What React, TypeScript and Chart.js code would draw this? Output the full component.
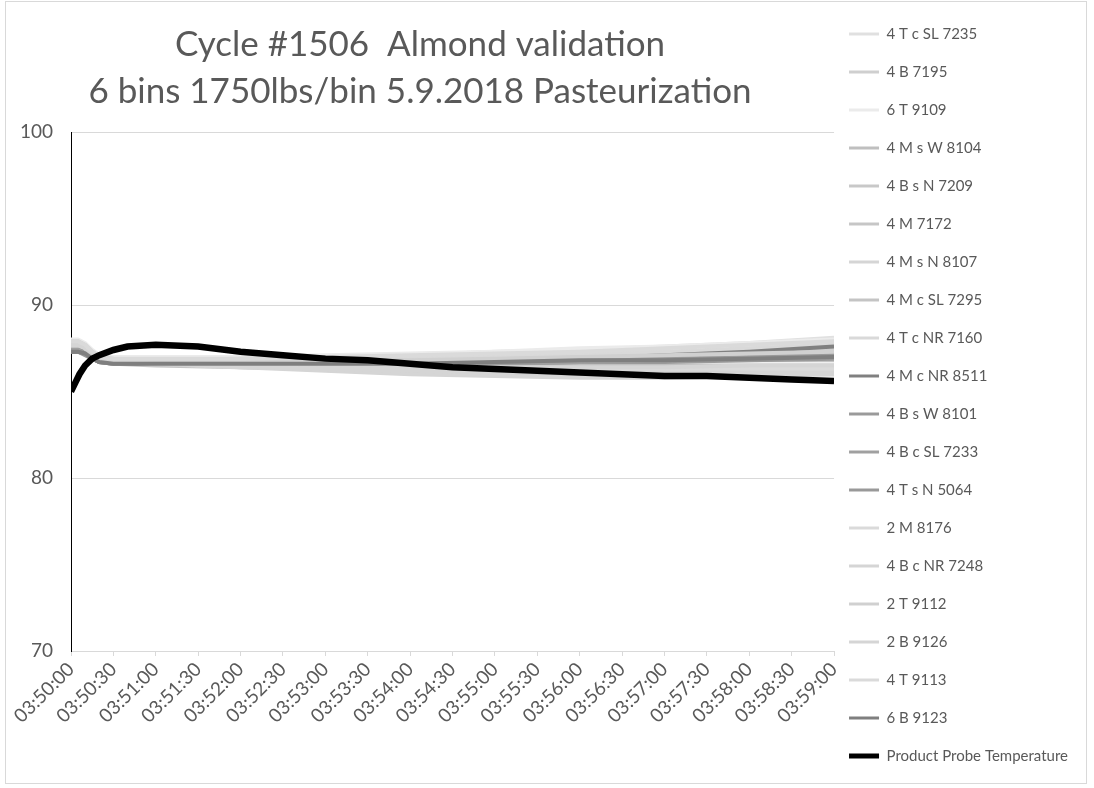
import React, { useEffect, useRef } from "react";
import { Chart, registerables } from "chart.js";

Chart.register(...registerables);

const TITLE_LINES = ["Cycle #1506  Almond validation", "6 bins 1750lbs/bin 5.9.2018 Pasteurization"];

const X_TICK_STEP = 30;
const X_MIN = 0;
const X_MAX = 540;
const X_TICK_LABELS = [
  "03:50:00", "03:50:30", "03:51:00", "03:51:30", "03:52:00", "03:52:30", "03:53:00",
  "03:53:30", "03:54:00", "03:54:30", "03:55:00", "03:55:30", "03:56:00", "03:56:30",
  "03:57:00", "03:57:30", "03:58:00", "03:58:30", "03:59:00",
];
const Y_MIN = 70;
const Y_MAX = 100;
const Y_STEP = 10;

// seconds after 03:50:00
const SENSOR_TIMES = [0, 5, 10, 15, 20, 30, 60, 120, 180, 240, 300, 360, 420, 480, 540];

const s4TcSL7235 = [87.9, 87.9, 87.7, 87.3, 87.0, 86.9, 86.9, 86.9, 87.0, 87.1, 87.3, 87.4, 87.6, 87.8, 88.1];
const s4B7195 = [87.8, 87.8, 87.6, 87.2, 86.9, 86.8, 86.8, 86.8, 86.8, 86.9, 87.0, 87.1, 87.2, 87.3, 87.4];
const s6T9109 = [88.0, 88.0, 87.8, 87.4, 87.1, 87.0, 87.0, 87.0, 87.1, 87.2, 87.3, 87.5, 87.6, 87.8, 88.0];
const s4MsW8104 = [87.6, 87.6, 87.4, 87.0, 86.7, 86.6, 86.6, 86.5, 86.5, 86.5, 86.5, 86.5, 86.5, 86.5, 86.5];
const s4BsN7209 = [87.7, 87.7, 87.5, 87.1, 86.8, 86.7, 86.6, 86.5, 86.4, 86.3, 86.3, 86.2, 86.2, 86.2, 86.2];
const s4M7172 = [87.6, 87.6, 87.4, 87.0, 86.7, 86.6, 86.5, 86.4, 86.3, 86.2, 86.1, 86.0, 86.0, 86.0, 86.0];
const s4MsN8107 = [87.7, 87.7, 87.5, 87.1, 86.8, 86.7, 86.6, 86.4, 86.2, 86.0, 85.9, 85.8, 85.8, 85.9, 86.0];
const s4McSL7295 = [87.6, 87.6, 87.4, 87.0, 86.8, 86.7, 86.7, 86.7, 86.7, 86.7, 86.7, 86.7, 86.8, 86.8, 86.8];
const s4TcNR7160 = [87.8, 87.8, 87.6, 87.2, 86.9, 86.8, 86.8, 86.9, 87.0, 87.0, 87.1, 87.2, 87.3, 87.5, 87.7];
const s4McNR8511 = [87.3, 87.3, 87.2, 86.9, 86.7, 86.7, 86.7, 86.6, 86.6, 86.7, 86.8, 86.9, 87.1, 87.3, 87.6];
const s4BsW8101 = [87.4, 87.4, 87.3, 87.0, 86.8, 86.7, 86.7, 86.6, 86.6, 86.6, 86.6, 86.7, 86.7, 86.8, 86.9];
const s4BcSL7233 = [87.4, 87.4, 87.2, 86.9, 86.7, 86.6, 86.6, 86.5, 86.5, 86.5, 86.6, 86.7, 86.8, 86.9, 87.0];
const s4TsN5064 = [87.3, 87.3, 87.1, 86.9, 86.7, 86.6, 86.6, 86.6, 86.6, 86.6, 86.7, 86.8, 86.9, 87.0, 87.2];
const s2M8176 = [87.7, 87.7, 87.5, 87.1, 86.8, 86.7, 86.6, 86.5, 86.4, 86.3, 86.3, 86.3, 86.3, 86.3, 86.3];
const s4BcNR7248 = [87.8, 87.8, 87.6, 87.2, 86.9, 86.8, 86.7, 86.6, 86.5, 86.4, 86.4, 86.4, 86.4, 86.5, 86.5];
const s2T9112 = [87.9, 87.9, 87.7, 87.3, 87.0, 86.9, 86.8, 86.8, 86.8, 86.8, 86.9, 87.0, 87.1, 87.2, 87.3];
const s2B9126 = [87.7, 87.7, 87.5, 87.1, 86.8, 86.7, 86.6, 86.4, 86.3, 86.2, 86.1, 86.1, 86.1, 86.1, 86.1];
const s4T9113 = [87.9, 87.9, 87.7, 87.3, 87.0, 86.9, 86.9, 86.9, 87.0, 87.1, 87.2, 87.3, 87.5, 87.7, 87.9];
const s6B9123 = [87.3, 87.3, 87.2, 86.9, 86.7, 86.6, 86.6, 86.6, 86.6, 86.6, 86.7, 86.8, 86.8, 86.9, 87.0];

const SENSOR_NAMES = [
  "4 T c SL 7235", "4 B 7195", "6 T 9109", "4 M s W 8104", "4 B s N 7209", "4 M 7172",
  "4 M s N 8107", "4 M c SL 7295", "4 T c NR 7160", "4 M c NR 8511", "4 B s W 8101",
  "4 B c SL 7233", "4 T s N 5064", "2 M 8176", "4 B c NR 7248", "2 T 9112", "2 B 9126",
  "4 T 9113", "6 B 9123",
];
const SENSOR_VALUES = [
  s4TcSL7235, s4B7195, s6T9109, s4MsW8104, s4BsN7209, s4M7172, s4MsN8107, s4McSL7295,
  s4TcNR7160, s4McNR8511, s4BsW8101, s4BcSL7233, s4TsN5064, s2M8176, s4BcNR7248, s2T9112,
  s2B9126, s4T9113, s6B9123,
];
const SENSOR_COLORS = [
  "#e0e0e0", "#cfcfcf", "#ebebeb", "#bfbfbf", "#c8c8c8", "#c6c6c6", "#d5d5d5", "#c4c4c4",
  "#d9d9d9", "#808080", "#9a9a9a", "#a0a0a0", "#999999", "#dadada", "#d5d5d5", "#d0d0d0",
  "#d5d5d5", "#dadada", "#7f7f7f",
];

const PROBE_NAME = "Product Probe Temperature";
const PROBE_TIMES = [0, 3, 6, 10, 15, 20, 30, 40, 60, 90, 120, 150, 180, 210, 240, 270, 300, 330, 360, 390, 420, 450, 480, 510, 540];
const PROBE_VALUES = [85.0, 85.5, 86.0, 86.5, 86.9, 87.1, 87.4, 87.6, 87.7, 87.6, 87.3, 87.1, 86.9, 86.8, 86.6, 86.4, 86.3, 86.2, 86.1, 86.0, 85.9, 85.9, 85.8, 85.7, 85.6];

const TEXT_COLOR = "#595959";
const FONT = "Lato";
const LEGEND_PAD = 23;

const layoutTweaks = {
  id: "layoutTweaks",
  afterLayout(chart: any) {
    const t = chart.titleBlock;
    if (t) {
      t.left = 0;
      t.right = chart.chartArea.right;
      t.width = t.right - t.left;
    }
    const l = chart.legend;
    if (l) {
      const w = l.right - l.left;
      l.left = chart.chartArea.right + 15 - LEGEND_PAD;
      l.right = l.left + w;
    }
  },
};

export default function App() {
  const ref = useRef<HTMLCanvasElement | null>(null);

  useEffect(() => {
    if (!ref.current) return;
    const sensorSets = SENSOR_NAMES.map((name, i) => ({
      label: name,
      data: SENSOR_TIMES.map((t, j) => ({ x: t, y: SENSOR_VALUES[i][j] })),
      borderColor: SENSOR_COLORS[i],
      backgroundColor: SENSOR_COLORS[i],
      borderWidth: 4,
      pointRadius: 0,
      tension: 0,
      order: SENSOR_NAMES.length - i,
    }));
    const probeSet = {
      label: PROBE_NAME,
      data: PROBE_TIMES.map((t, j) => ({ x: t, y: PROBE_VALUES[j] })),
      borderColor: "#000000",
      backgroundColor: "#000000",
      borderWidth: 6.5,
      pointRadius: 0,
      tension: 0,
      order: 0,
    };
    const probeIndex = SENSOR_NAMES.length;

    const chart = new Chart(ref.current, {
      type: "line",
      data: { datasets: [...sensorSets, probeSet] as any },
      plugins: [layoutTweaks],
      options: {
        animation: false,
        responsive: false,
        layout: { padding: { left: 0, top: 0, bottom: 0, right: 0 } },
        plugins: {
          tooltip: { enabled: false },
          title: {
            display: true,
            fullSize: false,
            text: TITLE_LINES,
            color: TEXT_COLOR,
            font: { family: FONT, size: 35, weight: "normal", lineHeight: "47px" },
            padding: { top: 19.5, bottom: 16.5 },
          },
          legend: {
            display: true,
            position: "right",
            labels: {
              color: TEXT_COLOR,
              font: { family: FONT, size: 15 },
              usePointStyle: true,
              pointStyle: "line",
              pointStyleWidth: 30,
              padding: LEGEND_PAD,
              sort: (a: any, b: any) => a.datasetIndex - b.datasetIndex,
              generateLabels: (c: any) =>
                (Chart.defaults.plugins.legend.labels.generateLabels as any)(c).map((it: any) => ({
                  ...it,
                  lineWidth: it.datasetIndex === probeIndex ? 5 : 3,
                })),
            },
          } as any,
        },
        scales: {
          x: {
            type: "linear",
            min: X_MIN,
            max: X_MAX,
            afterFit: (s: any) => {
              s.height = 137;
            },
            border: { display: true, color: "#d9d9d9", width: 1 },
            grid: { display: true, drawOnChartArea: false, drawTicks: true, tickLength: 5, color: "#d9d9d9" },
            ticks: {
              stepSize: X_TICK_STEP,
              autoSkip: false,
              maxRotation: 45,
              minRotation: 45,
              padding: 2,
              color: TEXT_COLOR,
              font: { family: FONT, size: 19 },
              callback: (v: any) => X_TICK_LABELS[Math.round((Number(v) - X_MIN) / X_TICK_STEP)] ?? "",
            },
          },
          y: {
            type: "linear",
            min: Y_MIN,
            max: Y_MAX,
            afterFit: (s: any) => {
              s.width = 65;
            },
            border: { display: true, color: "#000000", width: 1 },
            grid: { color: "#d9d9d9", drawTicks: false, lineWidth: 1 },
            ticks: {
              stepSize: Y_STEP,
              padding: 18,
              color: TEXT_COLOR,
              font: { family: FONT, size: 19 },
            },
          },
        },
      } as any,
    });
    return () => chart.destroy();
  }, []);

  return (
    <>
      <div
        style={{
          position: "absolute",
          left: 5,
          top: 1,
          width: 1080,
          height: 781,
          border: "1px solid #d9d9d9",
          background: "#ffffff",
        }}
      />
      <canvas
        ref={ref}
        width={1080}
        height={786}
        style={{ position: "absolute", left: 6, top: 2, width: 1080, height: 786 }}
      />
    </>
  );
}
